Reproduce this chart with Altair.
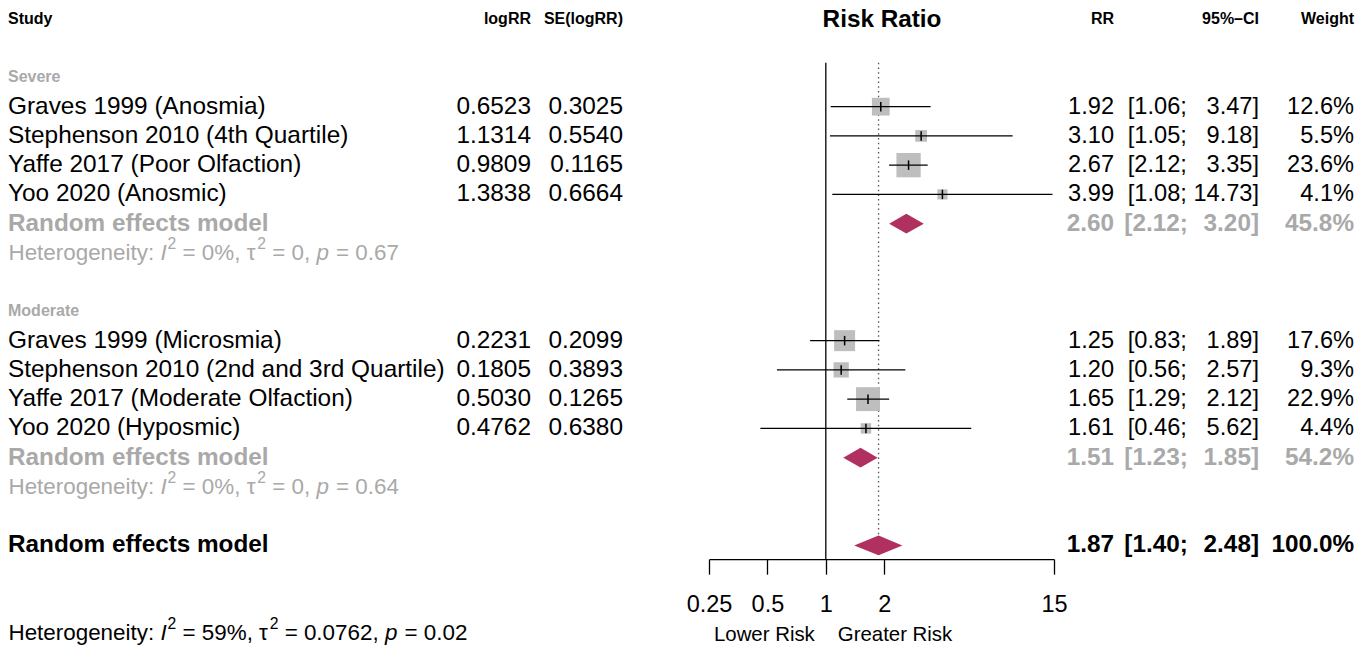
import altair as alt
import pandas as pd

FONT = "Liberation Sans"
GRAY_TXT = "#A9A9A9"
SQ_COL = "#BEBEBE"
DIA_COL = "#B03060"

# ---------------- data ----------------
sev_study = ["Graves 1999 (Anosmia)", "Stephenson 2010 (4th Quartile)",
             "Yaffe 2017 (Poor Olfaction)", "Yoo 2020 (Anosmic)"]
sev_logrr = [0.6523, 1.1314, 0.9809, 1.3838]
sev_se = [0.3025, 0.5540, 0.1165, 0.6664]
sev_rr = [1.92, 3.10, 2.67, 3.99]
sev_lo = [1.06, 1.05, 2.12, 1.08]
sev_hi = [3.47, 9.18, 3.35, 14.73]
sev_w = [12.6, 5.5, 23.6, 4.1]

mod_study = ["Graves 1999 (Microsmia)", "Stephenson 2010 (2nd and 3rd Quartile)",
             "Yaffe 2017 (Moderate Olfaction)", "Yoo 2020 (Hyposmic)"]
mod_logrr = [0.2231, 0.1805, 0.5030, 0.4762]
mod_se = [0.2099, 0.3893, 0.1265, 0.6380]
mod_rr = [1.25, 1.20, 1.65, 1.61]
mod_lo = [0.83, 0.56, 1.29, 0.46]
mod_hi = [1.89, 2.57, 2.12, 5.62]
mod_w = [17.6, 9.3, 22.9, 4.4]

sub_names = ["Severe", "Moderate"]
sub_rr = [2.60, 1.51]
sub_lo = [2.12, 1.23]
sub_hi = [3.20, 1.85]
sub_w = [45.8, 54.2]
sub_i2 = ["0%", "0%"]
sub_tau2 = ["0", "0"]
sub_p = ["0.67", "0.64"]

all_rr = 1.87
all_lo = 1.40
all_hi = 2.48
all_w = 100.0
all_i2, all_tau2, all_p = "59%", "0.0762", "0.02"

x_ticks = [0.25, 0.5, 1, 2, 15]

# ---------------- layout constants ----------------
W, H = 1354, 640
FS = 24.4        # left body text
FSR = 23.6       # right columns text
FSB = 24.3       # bold summary text
FSH = 16         # header text
FSHET = 22.4     # heterogeneity text
X_LOGRR, X_SE = 523, 615
X_RR, X_CI, X_W = 1106, 1251, 1346
DIAMOND_HALF = 0.34
AXIS_ROW = 18.47
Y0, Y1 = 10.9, 625.15

XS = alt.Scale(type="log", domain=[0.25, 15], range=[701, 1046], nice=False, zero=False)
YS = alt.Scale(domain=[0, 21], range=[Y0, Y1], nice=False, zero=False)
AX = alt.Axis(values=x_ticks, format="~g", title=None, grid=False, orient="bottom",
              domainColor="black", domainWidth=1.3, tickColor="black", tickWidth=1.3,
              tickSize=15, labelFontSize=23.5, labelFont=FONT, labelColor="black",
              labelPadding=30.5, labelBaseline="middle", labelFlush=False,
              labelOverlap=False, offset=-(H - (Y0 + (Y1 - Y0) * AXIS_ROW / 21)))


def X(field=None, datum=None):
    if datum is not None:
        return alt.XDatum(datum, type="quantitative", scale=XS, axis=AX)
    return alt.X(field, type="quantitative", scale=XS, axis=AX)


def Y(field=None, datum=None):
    if datum is not None:
        return alt.YDatum(datum, type="quantitative", scale=YS, axis=None)
    return alt.Y(field, type="quantitative", scale=YS, axis=None)


# ---------------- build tables ----------------
study_rows, sub_rows = [], []
groups = [
    (sev_study, sev_logrr, sev_se, sev_rr, sev_lo, sev_hi, sev_w),
    (mod_study, mod_logrr, mod_se, mod_rr, mod_lo, mod_hi, mod_w),
]
r = 2
group_label_rows = []
for gi, g in enumerate(groups):
    group_label_rows.append({"name": sub_names[gi], "row": r})
    for k in range(len(g[0])):
        study_rows.append({
            "study": g[0][k], "logrr": f"{g[1][k]:.4f}", "se": f"{g[2][k]:.4f}",
            "rr": g[3][k], "lo": g[4][k], "hi": g[5][k], "w": g[6][k],
            "rr_s": f"{g[3][k]:.2f}", "ci_l": f"[{g[4][k]:.2f};", "ci_r": f"{g[5][k]:.2f}]",
            "w_s": f"{g[6][k]:.1f}%", "row": r + 1 + k,
        })
    sub_rows.append({"name": "Random effects model", "rr": sub_rr[gi], "lo": sub_lo[gi],
                     "hi": sub_hi[gi], "rr_s": f"{sub_rr[gi]:.2f}",
                     "ci_l": f"[{sub_lo[gi]:.2f};", "ci_r": f"{sub_hi[gi]:.2f}]",
                     "w_s": f"{sub_w[gi]:.1f}%", "row": r + 5, "het_row": r + 6,
                     "i2": sub_i2[gi], "tau2": sub_tau2[gi], "p": sub_p[gi]})
    r += 8
overall_row = r
overall = {"name": "Random effects model", "rr": all_rr, "lo": all_lo, "hi": all_hi,
           "rr_s": f"{all_rr:.2f}", "ci_l": f"[{all_lo:.2f};", "ci_r": f"{all_hi:.2f}]",
           "w_s": f"{all_w:.1f}%", "row": overall_row}

studies = pd.DataFrame(study_rows)
subs = pd.DataFrame(sub_rows)
ovr = pd.DataFrame([overall])
glab = pd.DataFrame(group_label_rows)

dia = []
for i, s in enumerate(sub_rows + [overall]):
    dia += [
        {"id": i, "x": s["lo"], "y1": s["row"], "y2": s["row"]},
        {"id": i, "x": s["rr"], "y1": s["row"] - DIAMOND_HALF, "y2": s["row"] + DIAMOND_HALF},
        {"id": i, "x": s["hi"], "y1": s["row"], "y2": s["row"]},
    ]
dia = pd.DataFrame(dia)
dummy = pd.DataFrame({"d": [0]})

# ---------------- helpers ----------------
def col_text(df, field, x, align, size=FS, bold=False, color="black"):
    return alt.Chart(df).mark_text(
        align=align, baseline="middle", font=FONT, fontSize=size,
        fontWeight="bold" if bold else "normal", color=color
    ).encode(x=alt.value(x), y=Y("row"), text=alt.Text(f"{field}:N"))


def label(text, x, row, align, size, bold=False, color="black", dx=0, dy=0, xdatum=None):
    enc = {"y": Y(datum=row)}
    enc["x"] = X(datum=xdatum) if xdatum is not None else alt.value(x)
    return alt.Chart(dummy).mark_text(
        text=text, align=align, baseline="middle", font=FONT, fontSize=size,
        fontWeight="bold" if bold else "normal", color=color, dx=dx, dy=dy
    ).encode(**enc)


CW = {' ': 278, '=': 584, '%': 889, ',': 278, '.': 278, ':': 278, ';': 278, '[': 278,
      ']': 278, 'H': 722, 'e': 556, 't': 278, 'r': 333, 'o': 556, 'g': 556, 'n': 556,
      'i': 222, 'y': 500, 'I': 278, 'p': 556, 'τ': 470}


def tw(s, size):
    return sum(CW.get(c, 556) for c in s) / 1000 * size


def het_line(row, i2, tau2, p, color):
    segs = [("Heterogeneity: ", "n"), ("I", "i"), ("2", "s"), (f" = {i2}, τ", "n"),
            ("2", "s"), (f" = {tau2}, ", "n"), ("p", "i"), (f" = {p}", "n")]
    layers = []
    x = 0.5
    sup = FSHET * 0.7
    for s, kind in segs:
        size = sup if kind == "s" else FSHET
        lead = len(s) - len(s.lstrip(" "))
        txt = s.strip(" ")
        layers.append(alt.Chart(dummy).mark_text(
            text=txt, align="left", baseline="middle", font=FONT, fontSize=size,
            fontStyle="italic" if kind == "i" else "normal", color=color,
            dy=-9 if kind == "s" else 0
        ).encode(x=alt.value(x + tw(" " * lead, size)), y=Y(datum=row)))
        x += tw(s, size) + (1 if kind == "i" else 0)
    return layers


# ---------------- layers ----------------
layers = []
# reference lines
layers.append(alt.Chart(dummy).mark_rule(color="#555555", strokeWidth=1.3, strokeDash=[1.5, 3.2])
              .encode(x=X(datum=all_rr), y=Y(datum=1.5), y2=alt.datum(overall_row)))
layers.append(alt.Chart(dummy).mark_rule(color="black", strokeWidth=1.3)
              .encode(x=X(datum=1), y=Y(datum=1.5), y2=alt.datum(AXIS_ROW)))
# squares, CIs, point ticks
layers.append(alt.Chart(studies).mark_square(color=SQ_COL, opacity=1).encode(
    x=X("rr"), y=Y("row"),
    size=alt.Size("w:Q", scale=alt.Scale(domain=[0, 100], range=[0, 2500]), legend=None)))
layers.append(alt.Chart(studies).mark_rule(color="black", strokeWidth=1.4).encode(
    x=X("lo"), x2="hi", y=Y("row")))
layers.append(alt.Chart(studies).mark_point(shape="M0,-1L0,1", size=90, filled=False,
                                            stroke="black", strokeWidth=1.5, opacity=1)
              .encode(x=X("rr"), y=Y("row")))
# diamonds
layers.append(alt.Chart(dia).mark_area(color=DIA_COL, opacity=1, orient="vertical").encode(
    x=X("x"), y=Y("y1"), y2="y2", detail="id:N"))

# headers
layers += [
    label("Study", 0, 0, "left", FSH, True),
    label("logRR", X_LOGRR, 0, "right", FSH, True),
    label("SE(logRR)", X_SE, 0, "right", FSH, True),
    label("Risk Ratio", 874, 0, "center", FSB, True, dy=1),
    label("RR", X_RR, 0, "right", FSH, True),
    label("95%–CI", X_CI, 0, "right", FSH, True),
    label("Weight", X_W, 0, "right", FSH, True),
]
CI_L = X_CI - tw(" 00.00]", FSR)

# group labels
layers.append(col_text(glab, "name", 0, "left", FSH, True, GRAY_TXT))
# studies
layers += [
    col_text(studies, "study", 0, "left"),
    col_text(studies, "logrr", X_LOGRR, "right"),
    col_text(studies, "se", X_SE, "right"),
    col_text(studies, "rr_s", X_RR, "right", FSR),
    col_text(studies, "ci_l", CI_L, "right", FSR),
    col_text(studies, "ci_r", X_CI, "right", FSR),
    col_text(studies, "w_s", X_W, "right", FSR),
]
# subgroup summaries
for df, col in [(subs, GRAY_TXT), (ovr, "black")]:
    layers += [
        col_text(df, "name", 0, "left", FSB, True, col),
        col_text(df, "rr_s", X_RR, "right", FSB, True, col),
        col_text(df, "ci_l", CI_L + 1, "right", FSB, True, col),
        col_text(df, "ci_r", X_CI, "right", FSB, True, col),
        col_text(df, "w_s", X_W, "right", FSB, True, col),
    ]
for s in sub_rows:
    layers += het_line(s["het_row"], s["i2"], s["tau2"], s["p"], GRAY_TXT)
layers += het_line(21, all_i2, all_tau2, all_p, "black")

# bottom labels
layers.append(label("Lower Risk", 0, 21, "right", 20.4, dx=-11, dy=1.5, xdatum=1))
layers.append(label("Greater Risk", 0, 21, "left", 20.4, dx=12, dy=1.5, xdatum=1))

chart = alt.layer(*layers).properties(
    width=W, height=H, autosize=alt.AutoSizeParams(type="none"), padding=0
).configure(font=FONT, view=alt.ViewConfig(stroke=None))

chart.save("out.html", embed_options={"renderer": "svg", "actions": False})
